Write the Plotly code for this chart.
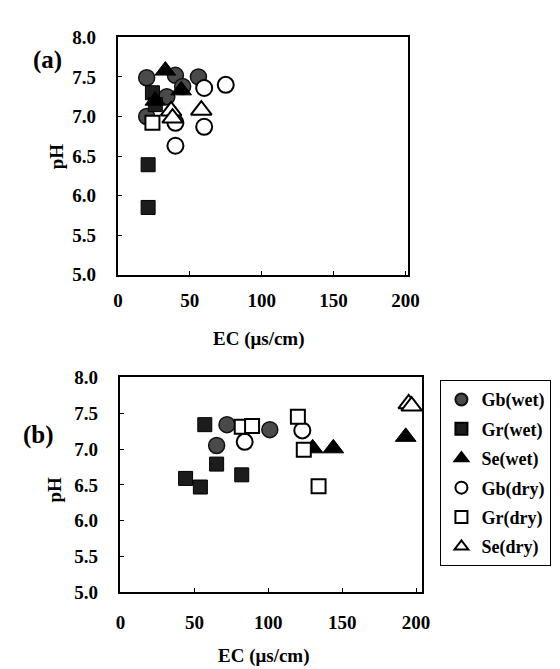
import plotly.graph_objects as go

# ---------------- data: panel (a) ----------------
a_gb_wet_ec = [20, 40, 56, 45, 34, 20]
a_gb_wet_ph = [7.49, 7.52, 7.50, 7.38, 7.25, 7.00]
a_gr_wet_ec = [21, 21, 24, 26]
a_gr_wet_ph = [6.39, 5.85, 7.30, 7.15]
a_se_wet_ec = [33, 44, 26]
a_se_wet_ph = [7.58, 7.33, 7.20]
a_gb_dry_ec = [75, 60, 60, 40, 40]
a_gb_dry_ph = [7.40, 7.36, 6.87, 6.63, 6.92]
a_gr_dry_ec = [24]
a_gr_dry_ph = [6.92]
a_se_dry_ec = [58, 37, 38]
a_se_dry_ph = [7.08, 7.07, 6.98]

# ---------------- data: panel (b) ----------------
b_gb_wet_ec = [72, 65, 101]
b_gb_wet_ph = [7.34, 7.05, 7.27]
b_gr_wet_ec = [57, 65, 44, 54, 82]
b_gr_wet_ph = [7.34, 6.79, 6.59, 6.47, 6.64]
b_se_wet_ec = [130, 144, 193]
b_se_wet_ph = [7.01, 7.01, 7.17]
b_gb_dry_ec = [84, 123]
b_gb_dry_ph = [7.10, 7.26]
b_gr_dry_ec = [82, 89, 120, 124, 134]
b_gr_dry_ph = [7.31, 7.32, 7.45, 6.99, 6.48]
b_se_dry_ec = [195, 197]
b_se_dry_ph = [7.63, 7.60]

names = ["Gb(wet)", "Gr(wet)", "Se(wet)", "Gb(dry)", "Gr(dry)", "Se(dry)"]
x_ticks = [0, 50, 100, 150, 200]
y_ticks = [5.0, 5.5, 6.0, 6.5, 7.0, 7.5, 8.0]

W, H = 560, 669
FONT = "Liberation Serif"

styles = {
    "Gb(wet)": dict(symbol="circle", color="#4a4a4a", line=dict(color="#111", width=1.5), size=16),
    "Gr(wet)": dict(symbol="square", color="#1c1c1c", line=dict(color="#000", width=1), size=14),
    "Se(wet)": dict(symbol="triangle-up", color="#000000", line=dict(color="#000", width=1), size=18),
    "Gb(dry)": dict(symbol="circle", color="white", line=dict(color="#000", width=2), size=16),
    "Gr(dry)": dict(symbol="square", color="white", line=dict(color="#000", width=2), size=14),
    "Se(dry)": dict(symbol="triangle-up", color="white", line=dict(color="#000", width=2), size=18),
}

panel_a = [(a_gb_wet_ec, a_gb_wet_ph), (a_gr_wet_ec, a_gr_wet_ph), (a_se_wet_ec, a_se_wet_ph),
           (a_gb_dry_ec, a_gb_dry_ph), (a_gr_dry_ec, a_gr_dry_ph), (a_se_dry_ec, a_se_dry_ph)]
panel_b = [(b_gb_wet_ec, b_gb_wet_ph), (b_gr_wet_ec, b_gr_wet_ph), (b_se_wet_ec, b_se_wet_ph),
           (b_gb_dry_ec, b_gb_dry_ph), (b_gr_dry_ec, b_gr_dry_ph), (b_se_dry_ec, b_se_dry_ph)]

fig = go.Figure()
for name, (xs, ys) in zip(names, panel_a):
    fig.add_trace(go.Scatter(x=xs, y=ys, mode="markers", name=name, showlegend=False,
                             marker=styles[name], xaxis="x", yaxis="y", cliponaxis=False))
for name, (xs, ys) in zip(names, panel_b):
    fig.add_trace(go.Scatter(x=xs, y=ys, mode="markers", name=name, showlegend=True,
                             legendgroup=name,
                             marker=styles[name], xaxis="x2", yaxis="y2", cliponaxis=False))

def px_x(p):
    return p / W

def px_y(p):
    return 1 - p / H

axis_common = dict(showline=True, linecolor="black", linewidth=2, mirror=True,
                   ticks="inside", ticklen=4, tickcolor="black", showgrid=False, zeroline=False,
                   tickfont=dict(family=FONT, size=19, color="black", weight="bold"))

fig.update_layout(
    width=W, height=H, margin=dict(l=0, r=0, t=0, b=0),
    paper_bgcolor="white", plot_bgcolor="white",
    xaxis=dict(domain=[px_x(108), px_x(407)], range=[0, 202], tickvals=x_ticks,
               anchor="y", ticklabelstandoff=8, **axis_common),
    yaxis=dict(domain=[px_y(265), px_y(20)], range=[5, 8], tickvals=y_ticks, tickformat=".1f",
               anchor="x", ticklabelstandoff=16, **axis_common),
    xaxis2=dict(domain=[px_x(110), px_x(421)], range=[-0.5, 204], tickvals=x_ticks,
                anchor="y2", ticklabelstandoff=12, **axis_common),
    yaxis2=dict(domain=[px_y(593), px_y(371)], range=[5, 8], tickvals=y_ticks, tickformat=".1f",
                anchor="x2", ticklabelstandoff=16, **axis_common),
    legend=dict(x=px_x(440), y=px_y(374), xanchor="left", yanchor="top",
                bordercolor="black", borderwidth=1, bgcolor="white",
                tracegroupgap=3, itemsizing="constant",
                font=dict(family=FONT, size=18, color="black", weight="bold")),
)

def ann(text, x, y, size, angle=0):
    fig.add_annotation(text=text, x=px_x(x), y=px_y(y), xref="paper", yref="paper",
                       showarrow=False, xanchor="center", yanchor="middle", textangle=angle,
                       font=dict(family=FONT, size=size, color="black", weight="bold"))

ann("(a)", 35, 43, 25)
ann("(b)", 26, 430, 25)
ann("pH", 45, 143, 19, -90)
ann("pH", 43, 487, 19, -90)
ann("EC (μs/cm)", 253, 331, 19)
ann("EC (μs/cm)", 258, 659, 19)

fig.write_html("out.html")
